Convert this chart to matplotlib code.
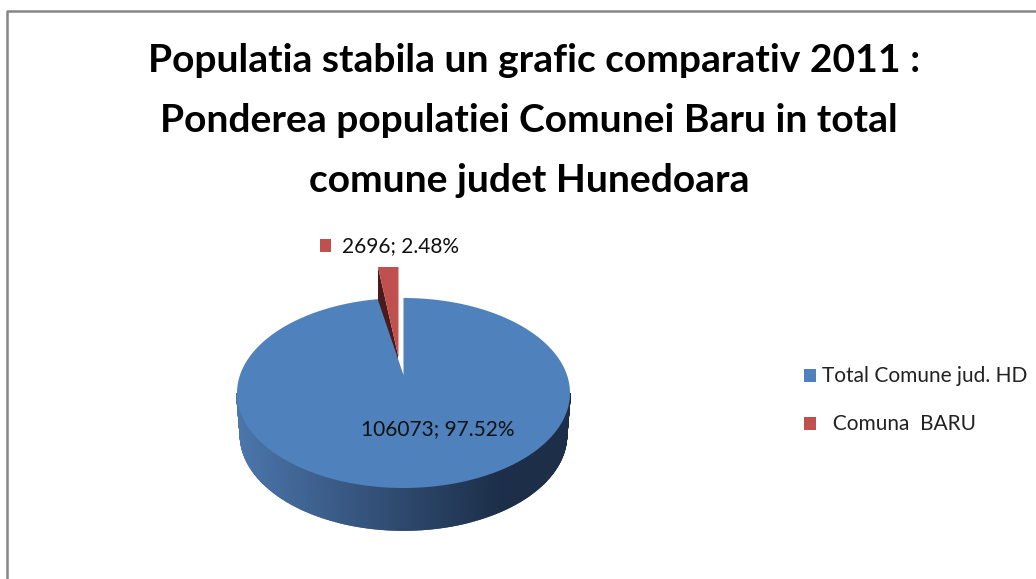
import numpy as np
import matplotlib
matplotlib.use("Agg")
import matplotlib.pyplot as plt
from matplotlib.patches import Polygon, Rectangle

# data
categories = ["Total Comune jud. HD", "  Comuna  BARU"]
values = [106073, 2696]
percent_labels = ["97.52%", "2.48%"]
title_lines = ["Populatia stabila un grafic comparativ 2011 :",
               "Ponderea populatiei Comunei Baru in total",
               "comune judet Hunedoara"]
colors = ["#4F81BD", "#C0504D"]

W, H = 1036, 579
fig = plt.figure(figsize=(W / 100, H / 100), dpi=100)
ax = fig.add_axes([0, 0, 1, 1])
ax.set_xlim(0, W)
ax.set_ylim(H, 0)
ax.axis("off")
plt.rcParams["font.family"] = ["Lato", "DejaVu Sans"]

# frame
ax.plot([7, 7, W], [H, 10.5, 10.5], color="#868686", lw=1.8, solid_capstyle="butt")

# title
for line, x, y in zip(title_lines, (534.5, 529, 529), (61, 120, 180)):
    ax.text(x, y, line, ha="center", va="center", fontsize=28.1, fontweight="bold", color="black")

# pie geometry
cx, cy, rx, ry = 403.5, 393, 166.5, 95
apex = (403.5, 375)
depth = 42
share = values[1] / sum(values)
sweep = 2 * np.pi * share

# side of the blue slice (strips with left-to-right shading)
side_l = np.array([76, 118, 172]) / 255
side_r = np.array([28, 46, 72]) / 255
th = np.linspace(3 * np.pi / 2, np.pi / 2, 300)
rx_b = 163
for a, b in zip(th[:-1], th[1:]):
    mid = (a + b) / 2
    xm = cx + rx * np.sin(mid)
    t = np.clip((xm - (cx - rx)) / (2 * rx * 0.8), 0, 1)
    c = side_l + (side_r - side_l) * t
    ax.add_patch(Polygon([(cx + rx * np.sin(a), cy - ry * np.cos(a)),
                          (cx + rx * np.sin(b), cy - ry * np.cos(b)),
                          (cx + rx_b * np.sin(b), cy + depth - ry * np.cos(b)),
                          (cx + rx_b * np.sin(a), cy + depth - ry * np.cos(a))],
                         closed=True, fc=c, ec=c, lw=1.2))

# exploded red slice
r_apex = (398, 355)
r_len = 88
r_rx = 129
left = (r_apex[0] - r_rx * np.sin(sweep), r_apex[1] - r_len)
right = (r_apex[0], r_apex[1] - r_len)
ax.add_patch(Polygon([left, r_apex, (r_apex[0], r_apex[1] + depth), (left[0], left[1] + depth)],
                     closed=True, fc="#4A1B1A", ec="none"))
ax.add_patch(Polygon([r_apex, left, right], closed=True, fc=colors[1], ec="none"))
ax.plot([right[0], r_apex[0]], [right[1], r_apex[1]], color="#E3A9A7", lw=0.8)

# blue top face
t = np.linspace(0, 2 * np.pi * (1 - share), 400)
arc = np.column_stack([cx + rx * np.sin(t), cy - ry * np.cos(t)])
ax.add_patch(Polygon(np.vstack([apex, arc]), closed=True, fc=colors[0], ec="none"))

# data labels
ax.text(438, 429, f"{values[0]}; {percent_labels[0]}", ha="center", va="center", fontsize=15, color="#111111")
ax.text(401, 246, f"{values[1]}; {percent_labels[1]}", ha="center", va="center", fontsize=15, color="#111111")
ax.add_patch(Rectangle((320, 239), 11, 13, fc=colors[1], ec="none"))

# legend
for (name, col, y) in zip(categories, colors, (375, 423)):
    ax.add_patch(Rectangle((804, y - 6), 12, 13, fc=col, ec="none"))
    ax.text(822, y + 1, name, ha="left", va="center", fontsize=15, color="#222222")

fig.savefig("out.png", dpi=100)
